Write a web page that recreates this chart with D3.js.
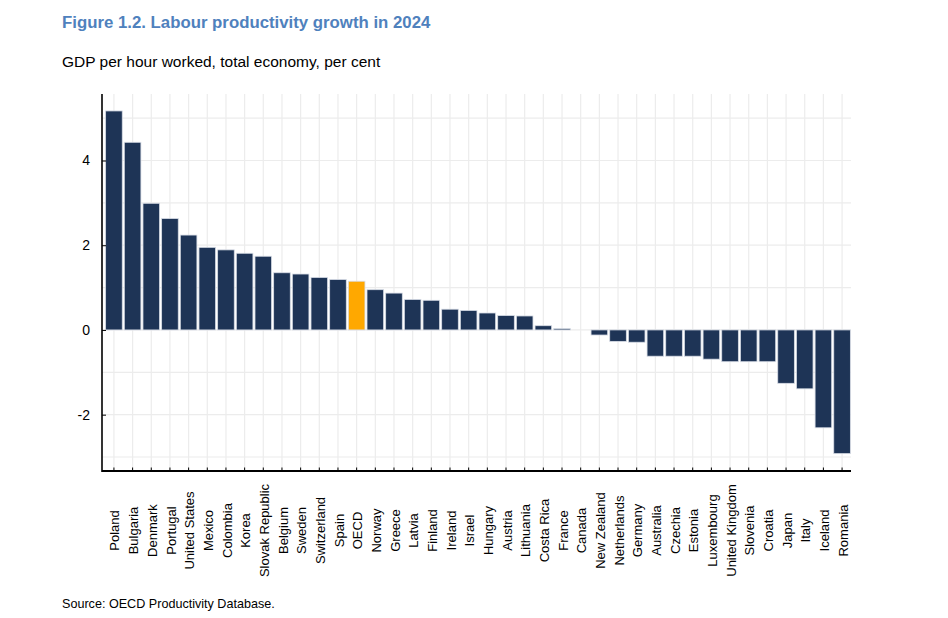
<!DOCTYPE html>
<html>
<head>
<meta charset="utf-8">
<script src="https://cdn.jsdelivr.net/npm/d3@7"></script>
<style>
  body { margin: 0; background: #fff; }
  svg { display: block; font-family: "Liberation Sans", Arial, sans-serif; }
</style>
</head>
<body>
<svg id="chart"></svg>
<script>
// countries, sorted as in the figure
let countries = ["Poland", "Bulgaria", "Denmark", "Portugal", "United States", "Mexico", "Colombia", "Korea",
  "Slovak Republic", "Belgium", "Sweden", "Switzerland", "Spain", "OECD", "Norway", "Greece", "Latvia",
  "Finland", "Ireland", "Israel", "Hungary", "Austria", "Lithuania", "Costa Rica", "France", "Canada",
  "New Zealand", "Netherlands", "Germany", "Australia", "Czechia", "Estonia", "Luxembourg",
  "United Kingdom", "Slovenia", "Croatia", "Japan", "Italy", "Iceland", "Romania"];

let growth = [5.17, 4.43, 2.99, 2.63, 2.24, 1.95, 1.89, 1.81,
  1.74, 1.35, 1.32, 1.24, 1.19, 1.15, 0.95, 0.87, 0.72,
  0.70, 0.49, 0.46, 0.40, 0.34, 0.33, 0.10, 0.03, 0.0,
  -0.12, -0.27, -0.29, -0.62, -0.62, -0.62, -0.69,
  -0.75, -0.75, -0.75, -1.26, -1.39, -2.31, -2.92];

let yTicks = [-2, 0, 2, 4];
let yGrid = [-3, -2, -1, 0, 1, 2, 3, 4, 5];

let values = countries.map((c, i) => ({ name: c, value: growth[i] }));

let w = 948;
let h = 618;
let axisX = 102;
let plotTop = 94;
let plotBottom = 471;
let plotRight = 851;

let svg = d3.select('#chart').attr('width', w).attr('height', h);

let xSc = d3.scaleBand()
            .domain(countries)
            .range([104.6, 851.4])
            .paddingInner(0.11)
            .paddingOuter(0.055);

let ySc = d3.scaleLinear()
            .domain([-3.33, 5.57])
            .range([plotBottom, plotTop]);

let center = name => xSc(name) + xSc.bandwidth() / 2;

// grid
svg.append('g')
   .selectAll('line')
   .data(yGrid)
   .enter()
   .append('line')
   .attr('x1', axisX)
   .attr('x2', plotRight)
   .attr('y1', d => ySc(d))
   .attr('y2', d => ySc(d))
   .attr('stroke', '#ececec')
   .attr('stroke-width', 1.2);

svg.append('g')
   .selectAll('line')
   .data(countries)
   .enter()
   .append('line')
   .attr('x1', d => center(d))
   .attr('x2', d => center(d))
   .attr('y1', plotTop)
   .attr('y2', plotBottom)
   .attr('stroke', '#ececec')
   .attr('stroke-width', 1.2);

// bars
svg.append('g')
   .selectAll('rect')
   .data(values)
   .enter()
   .append('rect')
   .attr('x', d => xSc(d.name))
   .attr('width', xSc.bandwidth())
   .attr('y', d => ySc(Math.max(0, d.value)))
   .attr('height', d => Math.abs(ySc(d.value) - ySc(0)))
   .attr('fill', d => d.name === 'OECD' ? '#ffa800' : '#1e3456')
   .attr('stroke', '#d8dde6')
   .attr('stroke-width', 0.8);

// y axis (hyphen minus, as in the figure)
let yAxis = d3.axisLeft(ySc)
              .tickValues(yTicks)
              .tickSize(-4)
              .tickPadding(12)
              .tickFormat(d => String(d));
let yG = svg.append('g')
   .attr('transform', 'translate(' + axisX + ', 0)')
   .call(yAxis);
yG.select('.domain').remove();
yG.selectAll('.tick line').attr('stroke', '#000').attr('stroke-width', 1);
yG.selectAll('.tick text')
  .attr('font-size', 14)
  .attr('font-family', '"Liberation Sans", Arial, sans-serif')
  .attr('fill', '#000');

svg.append('line')
   .attr('x1', axisX).attr('x2', axisX)
   .attr('y1', plotTop).attr('y2', plotBottom + 1)
   .attr('stroke', '#000')
   .attr('stroke-width', 1.6);

// x axis
let xAxis = d3.axisBottom(xSc)
              .tickSize(-3.5)
              .tickFormat('');
let xG = svg.append('g')
   .attr('transform', 'translate(0, ' + plotBottom + ')')
   .call(xAxis);
xG.select('.domain').remove();
xG.selectAll('.tick line').attr('stroke', '#000').attr('stroke-width', 1);

svg.append('line')
   .attr('x1', axisX).attr('x2', plotRight)
   .attr('y1', plotBottom).attr('y2', plotBottom)
   .attr('stroke', '#000')
   .attr('stroke-width', 1.8);

// category labels, rotated and centred
svg.append('g')
   .selectAll('text')
   .data(countries)
   .enter()
   .append('text')
   .attr('transform', d => 'translate(' + (center(d) + 1) + ', 530.5) rotate(-90)')
   .attr('text-anchor', 'middle')
   .attr('dy', '0.35em')
   .attr('font-size', 13)
   .attr('fill', '#000')
   .text(d => d);

// titles
svg.append('text')
   .attr('x', 62)
   .attr('y', 28)
   .attr('font-size', 16.8)
   .attr('font-weight', 'bold')
   .attr('fill', '#4f81bd')
   .text('Figure 1.2. Labour productivity growth in 2024');

svg.append('text')
   .attr('x', 62)
   .attr('y', 67)
   .attr('font-size', 15.5)
   .attr('fill', '#000')
   .text('GDP per hour worked, total economy, per cent');

svg.append('text')
   .attr('x', 62)
   .attr('y', 608)
   .attr('font-size', 12.6)
   .attr('fill', '#000')
   .text('Source: OECD Productivity Database.');
</script>
</body>
</html>
